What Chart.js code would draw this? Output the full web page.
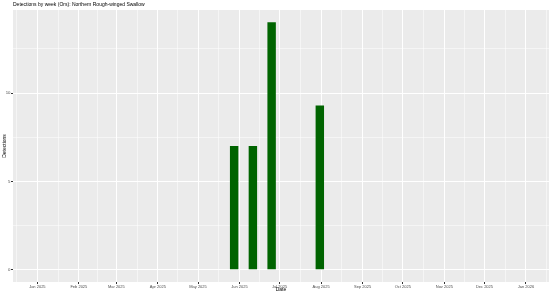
<!DOCTYPE html>
<html>
<head>
<meta charset="utf-8">
<script src="https://cdn.jsdelivr.net/npm/chart.js@4/dist/chart.umd.min.js"></script>
<style>
  body { margin: 0; background: #fff; }
  canvas { display: block; }
</style>
</head>
<body>
<canvas id="chart" width="553" height="295"></canvas>
<script>
// --- data ---
const weekDates = ['2025-05-28', '2025-06-11', '2025-06-25', '2025-07-31'];
const detections = [7, 7, 14, 9.3];

const monthStarts = ['2024-12-01', '2025-01-01', '2025-02-01', '2025-03-01', '2025-04-01', '2025-05-01',
    '2025-06-01', '2025-07-01', '2025-08-01', '2025-09-01', '2025-10-01', '2025-11-01', '2025-12-01',
    '2026-01-01', '2026-02-01'];
const monthLabels = ['Dec 2024', 'Jan 2025', 'Feb 2025', 'Mar 2025', 'Apr 2025', 'May 2025',
    'Jun 2025', 'Jul 2025', 'Aug 2025', 'Sep 2025', 'Oct 2025', 'Nov 2025', 'Dec 2025',
    'Jan 2026', 'Feb 2026'];
const yMajor = [0, 5, 10];
const yMinor = [2.5, 7.5, 12.5];

const DAY = 86400000;
// limits Jan 1 .. Dec 31 2025 with 5% expansion (ggplot style)
const xMin = Date.parse('2025-01-01') - 18.2 * DAY;
const xMax = Date.parse('2025-12-31') + 18.2 * DAY;
const yMin = -0.7, yMax = 14.7;

const FONT = 'Liberation Sans';

// label lookup for the x axis
const labelFor = {};
monthStarts.forEach((d, i) => { labelFor[Date.parse(d)] = monthLabels[i]; });

function xTicks() {
    const ticks = [];
    const vals = monthStarts.map(d => Date.parse(d));
    vals.forEach((v, i) => {
        if (v >= xMin && v <= xMax) ticks.push({ value: v, isMajor: true });
        if (i < vals.length - 1) {
            const mid = (v + vals[i + 1]) / 2;
            if (mid >= xMin && mid <= xMax) ticks.push({ value: mid, isMajor: false });
        }
    });
    return ticks.sort((a, b) => a.value - b.value);
}

function yTicks() {
    return yMajor.map(v => ({ value: v, isMajor: true }))
        .concat(yMinor.map(v => ({ value: v, isMajor: false })))
        .sort((a, b) => a.value - b.value);
}

const isMajor = c => c.tick && c.tick.isMajor;

// grey panel + title
const panelPlugin = {
    id: 'panel',
    beforeDraw(chart) {
        const { ctx, chartArea: a } = chart;
        ctx.save();
        ctx.fillStyle = '#EBEBEB';
        ctx.fillRect(a.left, a.top, a.right - a.left, a.bottom - a.top);
        ctx.fillStyle = '#000';
        ctx.font = '5px "' + FONT + '"';
        ctx.textBaseline = 'middle';
        ctx.textAlign = 'left';
        ctx.fillText('Detections by week (Ors): Northern Rough-winged Swallow', a.left, 4.8);
        ctx.restore();
    }
};

new Chart(document.getElementById('chart'), {
    type: 'bar',
    data: {
        datasets: [{
            data: weekDates.map((d, i) => ({ x: Date.parse(d), y: detections[i] })),
            backgroundColor: '#006400',
            borderWidth: 0,
            barPercentage: 0.5,
            categoryPercentage: 0.9
        }]
    },
    options: {
        responsive: false,
        animation: false,
        layout: { padding: { top: 10, right: 4, left: 0, bottom: 0 } },
        plugins: { legend: { display: false }, tooltip: { enabled: false }, title: { display: false } },
        scales: {
            x: {
                type: 'linear',
                min: xMin,
                max: xMax,
                offset: false,
                afterBuildTicks: s => { s.ticks = xTicks(); },
                afterFit: s => { s.height = 13; },
                border: { display: false },
                grid: {
                    offset: false,
                    color: '#FFFFFF',
                    lineWidth: c => isMajor(c) ? 1 : 0.5,
                    tickColor: c => isMajor(c) ? '#333333' : 'rgba(0,0,0,0)',
                    tickLength: 2,
                    drawTicks: true
                },
                ticks: {
                    autoSkip: false,
                    maxRotation: 0,
                    padding: 0.5,
                    color: '#4D4D4D',
                    font: { family: FONT, size: 4 },
                    callback: v => labelFor[v] || ''
                },
                title: {
                    display: true,
                    text: 'Date',
                    color: '#000',
                    font: { family: FONT, size: 5 },
                    padding: { top: 0, bottom: 2 }
                }
            },
            y: {
                min: yMin,
                max: yMax,
                afterBuildTicks: s => { s.ticks = yTicks(); },
                afterFit: s => { s.width = 13; },
                border: { display: false },
                grid: {
                    color: '#FFFFFF',
                    lineWidth: c => isMajor(c) ? 1 : 0.5,
                    tickColor: c => isMajor(c) ? '#333333' : 'rgba(0,0,0,0)',
                    tickLength: 2,
                    drawTicks: true
                },
                ticks: {
                    padding: 0.5,
                    color: '#4D4D4D',
                    font: { family: FONT, size: 4.3 },
                    callback: v => yMajor.includes(v) ? String(v) : ''
                },
                title: {
                    display: true,
                    text: 'Detections',
                    color: '#000',
                    font: { family: FONT, size: 5 },
                    padding: { top: 1.3, bottom: 0 }
                }
            }
        }
    },
    plugins: [panelPlugin]
});
</script>
</body>
</html>
